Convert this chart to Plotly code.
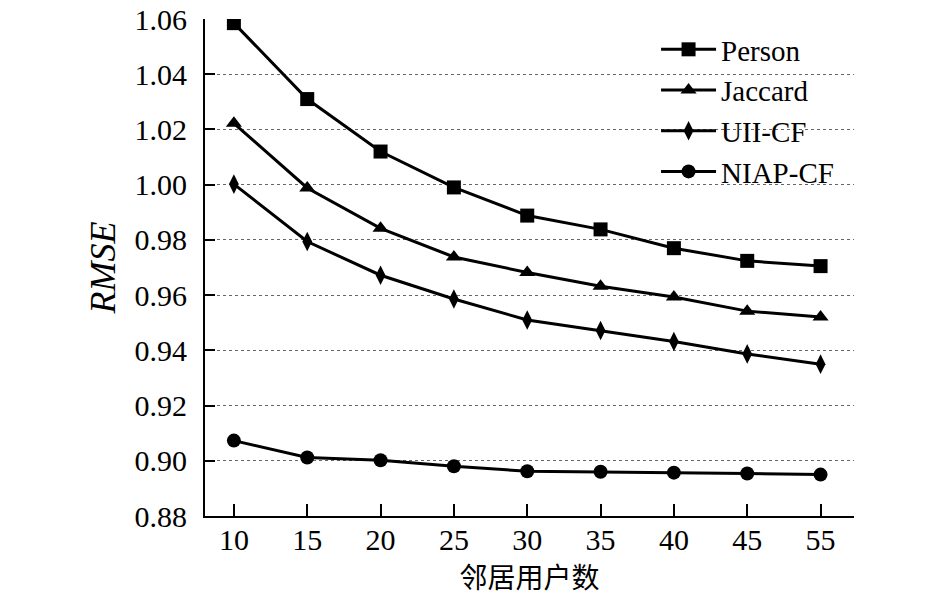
import plotly.graph_objects as go

# neighbour counts and RMSE values
x_pos = [10, 15, 20, 25, 30, 35, 40, 45, 50]
x_labels = ["10", "15", "20", "25", "30", "35", "40", "45", "55"]

person = [1.0585, 1.031, 1.012, 0.999, 0.9888, 0.9838, 0.977, 0.9724, 0.9705]
jaccard = [1.0222, 0.9988, 0.9842, 0.9738, 0.9682, 0.9632, 0.9593, 0.9542, 0.9521]
uii_cf = [1.0002, 0.9794, 0.9672, 0.9586, 0.9510, 0.9472, 0.9432, 0.9387, 0.9350]
niap_cf = [0.9073, 0.9012, 0.9002, 0.8980, 0.8962, 0.8960, 0.8957, 0.8954, 0.8950]

series = [
    ("Person", person, "square"),
    ("Jaccard", jaccard, "triangle-up"),
    ("UII-CF", uii_cf, "diamond-tall"),
    ("NIAP-CF", niap_cf, "circle"),
]

fig = go.Figure()
for name, vals, sym in series:
    fig.add_trace(go.Scatter(
        x=x_pos, y=vals, name=name, mode="lines+markers",
        line=dict(color="black", width=3),
        marker=dict(symbol=sym, size=14, color="black"),
    ))

font_main = "Liberation Serif, Times New Roman, serif"

fig.update_layout(
    width=945, height=596,
    margin=dict(l=197, r=99, t=11, b=88),
    paper_bgcolor="white", plot_bgcolor="white",
    font=dict(family=font_main, size=30, color="black"),
    showlegend=True,
    legend=dict(x=0.695, y=0.99, xanchor="left", yanchor="top",
                bgcolor="rgba(0,0,0,0)", font=dict(size=29),
                tracegroupgap=0, itemwidth=55),
)
fig.update_xaxes(
    range=[8.03, 52.28], tickmode="array", tickvals=x_pos, ticktext=x_labels,
    showline=True, linecolor="black", linewidth=2,
    ticks="inside", ticklen=12, tickwidth=2, tickcolor="black",
    showgrid=False, zeroline=False, ticklabelstandoff=-4, automargin=False,
    title=dict(text="邻居用户数", font=dict(family="Noto Sans CJK SC", size=28), standoff=5),
)
fig.update_yaxes(
    range=[0.88, 1.06], tickmode="array",
    tickvals=[0.88, 0.90, 0.92, 0.94, 0.96, 0.98, 1.00, 1.02, 1.04, 1.06],
    tickformat=".2f", ticklabeloverflow="allow", automargin=False,
    showline=True, linecolor="black", linewidth=2,
    ticks="inside", ticklen=10, tickwidth=2, tickcolor="black",
    showgrid=True, gridcolor="#666666", gridwidth=1, griddash="dot",
    zeroline=False, ticklabelstandoff=10,
    title=dict(text="<i>RMSE</i>", standoff=8),
)

fig.write_html("out.html")
